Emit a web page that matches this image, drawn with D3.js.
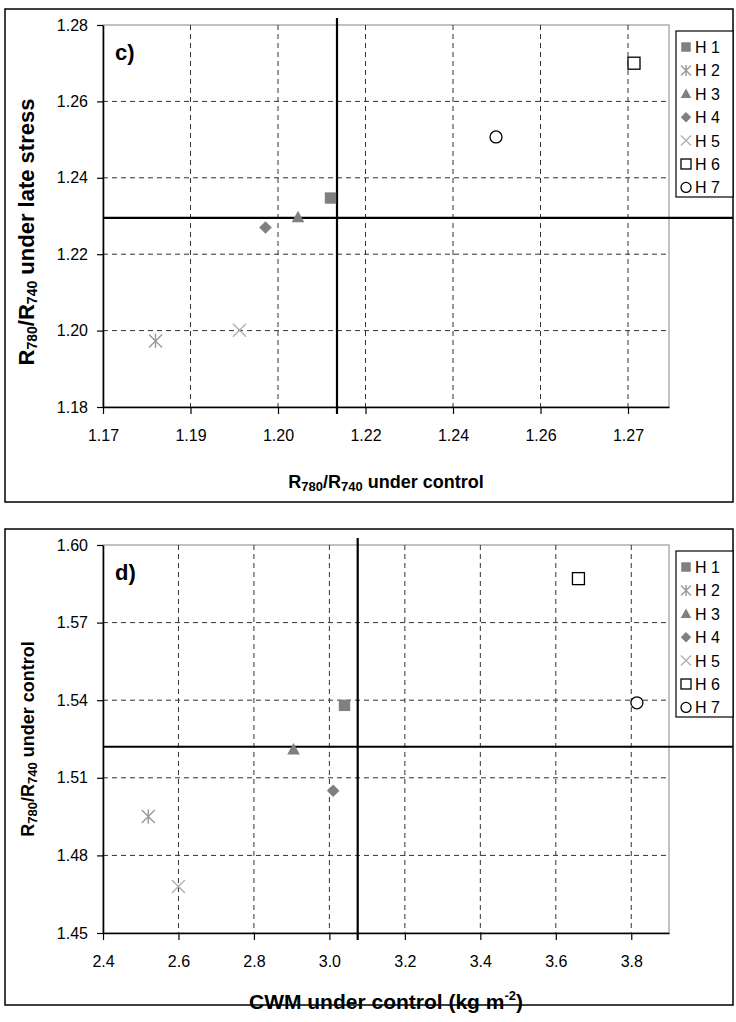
<!DOCTYPE html>
<html><head><meta charset="utf-8">
<script src="https://cdn.jsdelivr.net/npm/d3@7"></script>
<style>body{margin:0;background:#fff}svg{display:block}text{font-family:"Liberation Sans",Arial,sans-serif}</style>
</head><body>
<svg id="chart" width="736" height="1022"></svg>
<script>
const hybrids = ["H 1","H 2","H 3","H 4","H 5","H 6","H 7"];
// panel c
const cX = [1.2155, 1.1805, 1.2090, 1.2025, 1.1973, 1.2762, 1.2486];
const cY = [1.2347, 1.1973, 1.2297, 1.2270, 1.2001, 1.2700, 1.2507];
const cXTicks = [1.17, 1.1875, 1.205, 1.2225, 1.24, 1.2575, 1.275];
const cXTickLabels = ["1.17","1.19","1.20","1.22","1.24","1.26","1.27"];
const cYTicks = [1.18, 1.20, 1.22, 1.24, 1.26, 1.28];
const cRef = [1.2168, 1.2295];
// panel d
const dX = [3.04, 2.52, 2.905, 3.01, 2.60, 3.66, 3.815];
const dY = [1.538, 1.495, 1.521, 1.505, 1.468, 1.587, 1.539];
const dXTicks = [2.4, 2.6, 2.8, 3.0, 3.2, 3.4, 3.6, 3.8];
const dYTicks = [1.45, 1.48, 1.51, 1.54, 1.57, 1.60];
const dRef = [3.075, 1.522];

const markerStyle = [
  {type:"square", fill:"#808080", stroke:"none"},
  {type:"asterisk", fill:"none", stroke:"#999999"},
  {type:"triangle", fill:"#808080", stroke:"none"},
  {type:"diamond", fill:"#808080", stroke:"none"},
  {type:"x", fill:"none", stroke:"#b0b0b0"},
  {type:"square", fill:"#fff", stroke:"#000", open:true},
  {type:"circle", fill:"#fff", stroke:"#000", open:true}
];

const svg = d3.select("#chart");

function drawMarker(g, st, cx, cy, s) {
  const h = s/2;
  if (st.type === "square") {
    const hs = st.open ? h : h*0.95;
    g.append("rect").attr("x", cx-hs).attr("y", cy-hs).attr("width", 2*hs).attr("height", 2*hs)
      .attr("fill", st.fill).attr("stroke", st.stroke).attr("stroke-width", st.open?1.3:0);
  } else if (st.type === "circle") {
    g.append("circle").attr("cx", cx).attr("cy", cy).attr("r", h).attr("fill", st.fill)
      .attr("stroke", st.stroke).attr("stroke-width", 1.3);
  } else if (st.type === "triangle") {
    g.append("path").attr("d", `M${cx},${cy-h*1.05}L${cx+h*1.05},${cy+h*0.85}L${cx-h*1.05},${cy+h*0.85}Z`).attr("fill", st.fill);
  } else if (st.type === "diamond") {
    g.append("path").attr("d", `M${cx},${cy-h*1.05}L${cx+h*1.05},${cy}L${cx},${cy+h*1.05}L${cx-h*1.05},${cy}Z`).attr("fill", st.fill);
  } else if (st.type === "asterisk") {
    g.append("path").attr("d", `M${cx-h},${cy-h}L${cx+h},${cy+h}M${cx+h},${cy-h}L${cx-h},${cy+h}M${cx},${cy-h*1.1}L${cx},${cy+h*1.1}`)
      .attr("stroke", st.stroke).attr("stroke-width", 1.4).attr("fill", "none");
  } else if (st.type === "x") {
    g.append("path").attr("d", `M${cx-h},${cy-h}L${cx+h},${cy+h}M${cx+h},${cy-h}L${cx-h},${cy+h}`)
      .attr("stroke", st.stroke).attr("stroke-width", 1.4).attr("fill", "none");
  }
}

function sub(textSel, parts, subSize) {
  parts.forEach(p => {
    const t = textSel.append("tspan").text(p.t);
    if (p.sub) t.attr("font-size", subSize + "px").attr("dy", "3");
    else if (p.sup) t.attr("font-size", subSize + "px").attr("dy", "-9");
    if (p.after) t.attr("dy", p.after);
  });
}

function panel(o) {
  const top = o.top;
  const frame = {x:5, y:top-16, w:728, h:o.frameH};
  const pl = 103, pr = 669, pt = top, pb = top + o.plotH;
  const g = svg.append("g");
  g.append("rect").attr("x", frame.x).attr("y", frame.y).attr("width", frame.w).attr("height", frame.h)
    .attr("fill", "#fff").attr("stroke", "#000").attr("stroke-width", 1.5);

  const x = d3.scaleLinear().domain(o.xDomain).range([pl, pr]);
  const y = d3.scaleLinear().domain(o.yDomain).range([pb, pt]);

  g.append("rect").attr("x", pl).attr("y", pt).attr("width", pr-pl).attr("height", pb-pt)
    .attr("fill", "#fff").attr("stroke", "#999").attr("stroke-width", 1.2);

  g.append("g").selectAll("line").data(o.xTicks.slice(1)).join("line")
    .attr("x1", d => x(d)).attr("x2", d => x(d)).attr("y1", pt).attr("y2", pb)
    .attr("stroke", "#333").attr("stroke-width", 1).attr("stroke-dasharray", "5,4");
  g.append("g").selectAll("line").data(o.yTicks.slice(1, -1)).join("line")
    .attr("x1", pl).attr("x2", pr).attr("y1", d => y(d)).attr("y2", d => y(d))
    .attr("stroke", "#333").attr("stroke-width", 1).attr("stroke-dasharray", "5,4");

  const xa = g.append("g").attr("transform", `translate(0,${pb})`)
    .call(d3.axisBottom(x).tickValues(o.xTicks).tickSize(7).tickSizeOuter(0)
      .tickFormat((d,i) => o.xTickLabels[i]));
  const ya = g.append("g").attr("transform", `translate(${pl},0)`)
    .call(d3.axisLeft(y).tickValues(o.yTicks).tickSize(6).tickSizeOuter(0)
      .tickFormat(d3.format(".2f")));
  [xa, ya].forEach(a => {
    a.select(".domain").attr("stroke", "#000").attr("stroke-width", 1.6);
    a.selectAll(".tick line").attr("stroke", "#000").attr("stroke-width", 1.2);
    a.selectAll(".tick text").attr("font-size", o.tickFont + "px").attr("fill", "#000")
      .attr("font-family", "Liberation Sans, Arial, sans-serif");
  });
  xa.selectAll(".tick text").attr("dy", "1.1em").attr("y", 16);
  ya.selectAll(".tick text").attr("x", -15);

  g.append("line").attr("x1", x(o.ref[0])).attr("x2", x(o.ref[0])).attr("y1", pt-7).attr("y2", pb+7)
    .attr("stroke", "#000").attr("stroke-width", 2.2);
  g.append("line").attr("x1", pl).attr("x2", 733).attr("y1", y(o.ref[1])).attr("y2", y(o.ref[1]))
    .attr("stroke", "#000").attr("stroke-width", 2.2);

  const mg = g.append("g");
  o.xs.forEach((v, i) => drawMarker(mg, markerStyle[i], x(v), y(o.ys[i]), i===1||i===4 ? 13 : 12));

  g.append("text").attr("x", 115).attr("y", pt + 35).attr("font-size", "22px").attr("font-weight", "bold").text(o.label);

  const lg = g.append("g");
  lg.append("rect").attr("x", 676).attr("y", pt+6).attr("width", 57).attr("height", 166)
    .attr("fill", "#fff").attr("stroke", "#000").attr("stroke-width", 1.2);
  hybrids.forEach((h, i) => {
    const cy = pt + 22 + i*23.4;
    drawMarker(lg, markerStyle[i], 686, cy, 10);
    lg.append("text").attr("x", 695).attr("y", cy + 6).attr("font-size", "16px").text(h);
  });

  const xt = g.append("text").attr("x", (pl+pr)/2).attr("y", pb + o.xTitleDy).attr("text-anchor", "middle")
    .attr("font-size", o.xTitleFont + "px").attr("font-weight", "bold");
  sub(xt, o.xTitle, 13);
  const yt = g.append("text").attr("transform", `translate(34,${(pt+pb)/2 + o.yTitleShift}) rotate(-90)`).attr("text-anchor", "middle")
    .attr("font-size", o.yTitleFont + "px").attr("font-weight", "bold");
  sub(yt, o.yTitle, o.yTitleFont >= 21 ? 14 : 13);
}

const R = (rest) => [{t:"R"},{t:"780",sub:true},{t:"/R",after:"-3"},{t:"740",sub:true},{t:rest,after:"-3"}];

panel({top:25, plotH:382, frameH:493, xDomain:[1.17,1.2832], yDomain:[1.18,1.28],
  xTicks:cXTicks, xTickLabels:cXTickLabels, yTicks:cYTicks, ref:cRef, xs:cX, ys:cY, label:"c)",
  tickFont:16, xTitleFont:18, xTitleDy:81, yTitleFont:22, yTitleShift:16,
  xTitle:R(" under control"), yTitle:R(" under late stress")});
panel({top:545, plotH:388, frameH:476, xDomain:[2.4,3.9], yDomain:[1.45,1.60],
  xTicks:dXTicks, xTickLabels:dXTicks.map(d3.format(".1f")), yTicks:dYTicks, ref:dRef, xs:dX, ys:dY, label:"d)",
  tickFont:16, xTitleFont:21, xTitleDy:76, yTitleFont:18, yTitleShift:0,
  xTitle:[{t:"CWM under control (kg m"},{t:"-2",sup:true},{t:")",after:"9"}], yTitle:R(" under control")});
</script>
</body></html>
